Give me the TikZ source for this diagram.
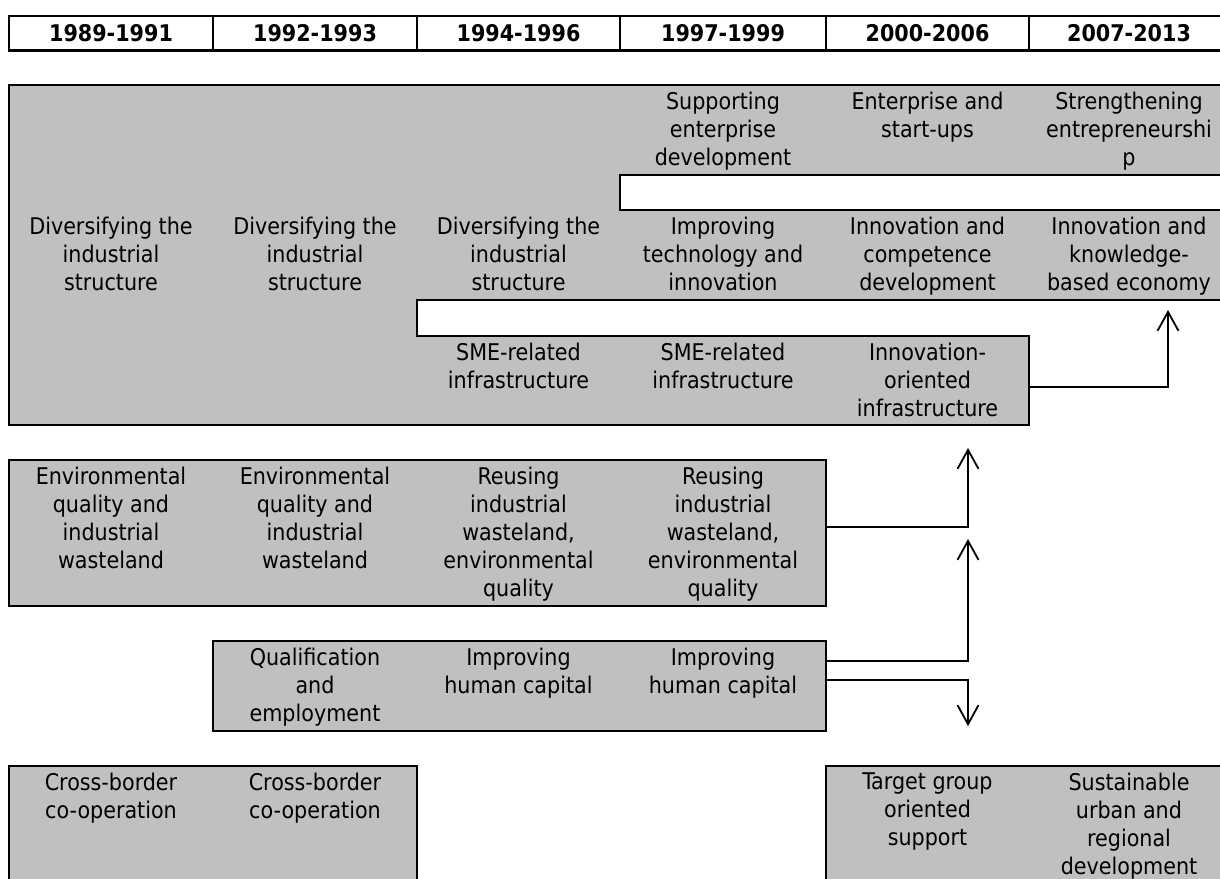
\documentclass[tikz,border=0pt]{standalone}
\usepackage{fontspec}
\setmainfont{DejaVu Sans Condensed}
\usetikzlibrary{arrows.meta}

\definecolor{panelgrey}{HTML}{C0C0C0}

\tikzset{
  panel/.style={draw=black, line width=2.4pt, fill=panelgrey},
  gap/.style={draw=black, line width=2.4pt, fill=white},
  period/.style={font=\fontsize{23}{28}\selectfont\bfseries, inner sep=0pt},
  theme/.style={align=center, anchor=north, inner sep=0pt, font=\fontsize{23}{28}\selectfont},
  flow/.style={line width=1.8pt, -{Straight Barb[length=19pt, width=21pt]}}
}

\begin{document}
\begin{tikzpicture}[x=1pt, y=-1pt]
    \useasboundingbox (0,0) rectangle (1220,878);
    \clip (0,0) rectangle (1220,878);

    % periods
    \draw[line width=2.4pt] (9,16) rectangle (1235,50.5);
    \foreach \x in {213, 417, 620, 826, 1029}
        \draw[line width=2.4pt] (\x,16) -- (\x,50.5);
    \foreach \x/\t [count=\n] in {111/1989-1991, 315/1992-1993, 518.5/1994-1996, 723/1997-1999, 927.5/2000-2006, 1129/2007-2013}
        \node[period] (yr\n) at (\x,33) {\t};

    % panels
    \draw[panel] (9,85) -- (1235,85) -- (1235,300) -- (417,300) -- (417,336) -- (1029,336) -- (1029,425) -- (9,425) -- cycle;
    \draw[gap] (620,175) rectangle (1235,210);
    \draw[panel] (9,460) rectangle (826,606);
    \draw[panel] (213,641) rectangle (826,731);
    \draw[panel] (9,766) rectangle (417,900);
    \draw[panel] (826,766) rectangle (1235,900);

    % economy
    \foreach \x/\y/\t [count=\n] in {
        723/91.5/{Supporting\\enterprise\\development},
        927.5/91.5/{Enterprise and\\start-ups},
        1129/91.5/{Strengthening\\entrepreneurshi\\p},
        111/216.5/{Diversifying the\\industrial\\structure},
        315/216.5/{Diversifying the\\industrial\\structure},
        518.5/216.5/{Diversifying the\\industrial\\structure},
        723/216.5/{Improving\\technology and\\innovation},
        927.5/216.5/{Innovation and\\competence\\development},
        1129/216.5/{Innovation and\\knowledge-\\based economy},
        518.5/342.5/{SME-related\\infrastructure},
        723/342.5/{SME-related\\infrastructure},
        927.5/342.5/{Innovation-\\oriented\\infrastructure}}
        \node[theme] (eco\n) at (\x,\y) {\t};

    % environment
    \foreach \x/\t [count=\n] in {
        111/{Environmental\\quality and\\industrial\\wasteland},
        315/{Environmental\\quality and\\industrial\\wasteland},
        518.5/{Reusing\\industrial\\wasteland,\\environmental\\quality},
        723/{Reusing\\industrial\\wasteland,\\environmental\\quality}}
        \node[theme] (env\n) at (\x,466.5) {\t};

    % human capital
    \foreach \x/\t [count=\n] in {
        315/{Qualification\\and\\employment},
        518.5/{Improving\\human capital},
        723/{Improving\\human capital}}
        \node[theme] (hc\n) at (\x,647.5) {\t};

    % other themes
    \foreach \x/\t [count=\n] in {
        111/{Cross-border\\co-operation},
        315/{Cross-border\\co-operation},
        927.5/{Target group\\oriented\\support},
        1129/{Sustainable\\urban and\\regional\\development}}
        \node[theme] (oth\n) at (\x,772.5) {\t};

    % links
    \coordinate (inno-out) at (1029,387);
    \coordinate (know-in) at (1168,310);
    \coordinate (env-out) at (826,527);
    \coordinate (env-up) at (968,448);
    \coordinate (hc-out) at (826,661);
    \coordinate (hc-up) at (968,539);
    \coordinate (hc-out2) at (826,680);
    \coordinate (hc-down) at (968,726);

    \draw[flow] (inno-out) -| (know-in);
    \draw[flow] (env-out) -| (env-up);
    \draw[flow] (hc-out) -| (hc-up);
    \draw[flow] (hc-out2) -| (hc-down);
\end{tikzpicture}
\end{document}
